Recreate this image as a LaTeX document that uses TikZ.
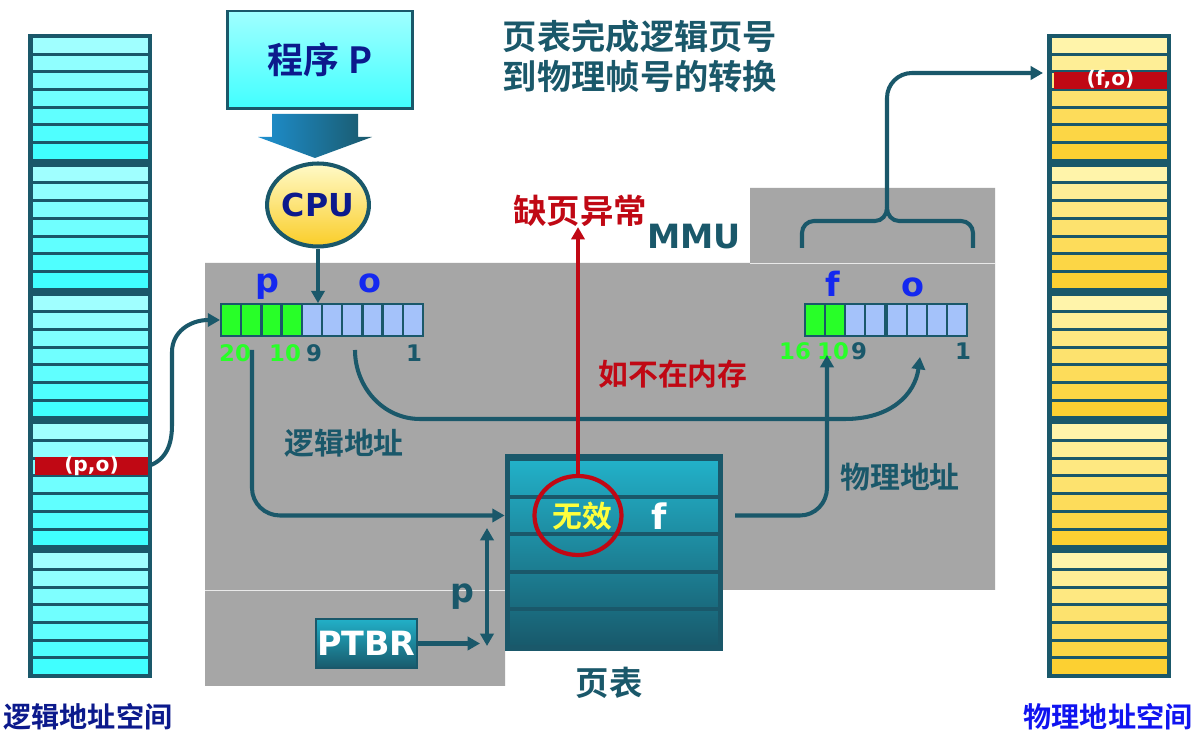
\documentclass[tikz,border=0pt]{standalone}
\usepackage{fontspec}
\setmainfont{DejaVu Sans}
\newfontfamily\cjk{Noto Sans CJK SC}[BoldFont={Noto Sans CJK SC Bold}]
\usetikzlibrary{arrows.meta,shapes.geometric,calc}
\definecolor{teal1}{RGB}{26,88,106}
\definecolor{mmugray}{RGB}{166,166,166}
\definecolor{cyT}{RGB}{160,255,255}
\definecolor{cyB}{RGB}{64,255,255}
\definecolor{yeT}{RGB}{255,244,170}
\definecolor{yeB}{RGB}{252,208,50}
\definecolor{regG}{RGB}{40,255,40}
\definecolor{regB}{RGB}{164,194,250}
\definecolor{lblue}{RGB}{20,40,240}
\definecolor{darkred}{RGB}{192,8,20}
\definecolor{navy}{RGB}{12,26,140}
\definecolor{rblue}{RGB}{16,20,240}
\definecolor{tabT}{RGB}{34,176,200}
\definecolor{tabB}{RGB}{24,90,108}
\definecolor{lyel}{RGB}{255,255,60}
\definecolor{arrL}{RGB}{30,144,208}
\definecolor{cpuT}{RGB}{255,250,200}
\definecolor{cpuB}{RGB}{250,205,40}
\newcommand{\fs}[1]{\fontsize{#1}{#1}\selectfont}
\newcommand{\memcol}[3]{%
  \fill[teal1] (#1,34) rectangle ++(124,644);
  \foreach \g in {0,...,4}{
    \foreach \i in {0,...,6}{
      \pgfmathsetmacro\yy{38+\g*128.8+\i*17.7}
      \pgfmathtruncatemacro\pc{100-\i*100/6}
      \fill[#2!\pc!#3] (#1+5,\yy) rectangle ++(115,14.7);
    }}}
\tikzset{
  conn/.style={draw=teal1,line width=2.3pt},
  arr/.style={-{Triangle[length=7pt,width=7.5pt]}},
  barr/.style={{Triangle[length=7pt,width=7.5pt]}-{Triangle[length=7pt,width=7.5pt]}},
  lbl/.style={font=\cjk\bfseries\fs{17pt}, text=teal1, inner sep=0},
  cell/.style={draw=teal1, line width=1.2pt, minimum width=0.40cm, minimum height=0.63cm, inner sep=0},
  bit/.style={font=\bfseries\fs{13pt}, inner sep=0, anchor=base},
  fld/.style={font=\bfseries\fs{19pt}, text=lblue, inner sep=0, anchor=base},
  redbar/.style={fill=darkred, text=white, font=\bfseries\fs{11.5pt}, minimum width=2.26cm, minimum height=0.34cm, inner sep=0, text height=8pt, text depth=2pt},
}
\begin{document}
\begin{tikzpicture}[x=0.02cm,y=-0.02cm]
\useasboundingbox (0,0) rectangle (1198,742);
\fill[white] (0,0) rectangle (1198,742);
% MMU gray region
\fill[mmugray] (205,263) -- (750,263) -- (750,188) -- (995,188) -- (995,590) -- (505,590) -- (505,686) -- (205,686) -- cycle;
\draw[white!75!mmugray, line width=0.5pt] (750,263) -- (995,263);
\draw[white!75!mmugray, line width=0.5pt] (205,590) -- (505,590);
% memory columns
\memcol{28}{cyT}{cyB}
\memcol{1047}{yeT}{yeB}
\node[redbar] (po) at (91.5,466) {(p,o)};
\node[redbar] (fo) at (1110.5,80.5) {(f,o)};
\node[font=\cjk\bfseries\fs{16pt}, text=navy] (lasp) at (88,717) {逻辑地址空间};
\node[font=\cjk\bfseries\fs{16pt}, text=rblue] (pasp) at (1108,717) {物理地址空间};
% title
\node[align=center, font=\cjk\bfseries\fontsize{19.5pt}{22.7pt}\selectfont, text=teal1] (title) at (640,56) {页表完成逻辑页号\\到物理帧号的转换};
% program box
\node[draw=teal1, line width=1.7pt, top color=cyT, bottom color=cyB, minimum width=3.72cm, minimum height=1.96cm, inner sep=0, font=\cjk\bfseries\fs{20.5pt}, text=navy] (prog) at (320,60) {程序 P};
\shade[left color=arrL, right color=teal1] (272,114) -- (358,114) -- (358,137) -- (372,137) -- (315,158) -- (258,137) -- (272,137) -- cycle;
% CPU
\node[ellipse, draw=teal1, line width=2.3pt, top color=cpuT, bottom color=cpuB, minimum width=1.96cm, minimum height=1.66cm, inner sep=0, font=\bfseries\fs{18pt}, text=navy] (cpu) at (318,205) {CPU};
% left register
\foreach \i in {0,...,9}{
  \ifnum\i<4 \def\cc{regG}\else\def\cc{regB}\fi
  \node[cell, fill=\cc] (L\i) at (231.1+\i*20.2,320) {};
}
% right register
\foreach \i in {0,...,3}{\node[cell, fill=\ifnum\i<2 regG\else regB\fi] (R\i) at (815+\i*20,320) {};}
\foreach \i in {4,...,7}{\node[cell, fill=regB] (R\i) at (897+\i*20-80,320) {};}
\node[fld] (fp) at (267,293) {p};
\node[fld] (fo1) at (370,293) {o};
\node[fld] (ff) at (833,297) {f};
\node[fld] (fo2) at (913,297) {o};
\node[bit, text=regG] (n20) at (235,362) {20};
\node[bit, text=regG] (n10) at (285,362) {10};
\node[bit, text=teal1] (n9) at (314,362) {9};
\node[bit, text=teal1] (n1) at (414,362) {1};
\node[bit, text=regG] (m16) at (795,360) {16};
\node[bit, text=regG] (m10) at (833,360) {10};
\node[bit, text=teal1] (m9) at (859,360) {9};
\node[bit, text=teal1] (m1) at (963,360) {1};
% page table
\node[fill=teal1, minimum width=4.36cm, minimum height=3.94cm, inner sep=0] (tab) at (614,552.5) {};
\foreach \i in {0,...,4}{
  \pgfmathtruncatemacro\ta{100-\i*20}
  \pgfmathtruncatemacro\tb{100-(\i+1)*20}
  \node[top color=tabT!\ta!tabB, bottom color=tabT!\tb!tabB, minimum width=4.16cm, minimum height=0.65cm, inner sep=0] (r\i) at (614,478+\i*37.5) {};
}
\node[ellipse, draw=darkred, line width=2.4pt, minimum width=1.74cm, minimum height=1.58cm, inner sep=0] (inv) at (578,515.5) {};
\node[font=\cjk\bfseries\fs{17pt}, text=lyel, inner sep=0] (invt) at (582,516) {无效};
\node[font=\bfseries\fs{20pt}, text=white, inner sep=0] (ft) at (659,516) {f};
\node[font=\cjk\bfseries\fs{19pt}, text=teal1] (pt) at (609,683) {页表};
% texts
\node[font=\cjk\bfseries\fs{19pt}, text=darkred, inner sep=0] (fault) at (580,211) {缺页异常};
\node[font=\bfseries\fs{19pt}, text=teal1, inner sep=0] (mmu) at (694,237) {MMU};
\node[font=\cjk\bfseries\fs{17pt}, text=darkred, inner sep=0] (notin) at (673,374) {如不在内存};
\node[lbl] (laddr) at (344,443) {逻辑地址};
\node[lbl] (paddr) at (900,477) {物理地址};
\node[font=\bfseries\fs{19pt}, text=teal1, inner sep=0, anchor=base] (pl) at (462,603) {p};
% PTBR
\node[draw=teal1, line width=1pt, top color=tabT, bottom color=tabB, minimum width=2.02cm, minimum height=0.98cm, inner sep=0, font=\bfseries\fs{19pt}, text=white] (ptbr) at (366.5,643.5) {PTBR};
% coordinates
\coordinate (la) at (252,350);
\coordinate (os) at (355,350);
\coordinate (oe) at (920,357);
\coordinate (ps) at (735,515.5);
\coordinate (pe) at (827,355);
\coordinate (pt2) at (480,643.5);
\coordinate (da) at (487,528);
\coordinate (db) at (487,646);
\coordinate (brtip) at (887,208);
\coordinate (fot) at (1043,73);
% connectors
\draw[conn,arr] (cpu.south) -- (cpu.south |- L4.north);
\draw[conn,arr] (po.east) .. controls (166,460) and (172,445) .. (172,425) -- (172,352) .. controls (172,332) and (190,320) .. (L0.west);
\draw[conn,arr] (la) -- (252,488) to[out=-90,in=180] (280,515.5) -- (r1.west -| tab.west);
\draw[conn,arr] (os) to[out=-90,in=180] (420,419) -- (845,419) .. controls (890,419) and (915,395) .. (oe);
\draw[conn,arr] (ps) -- (800,515.5) to[out=0,in=-90] (827,488) -- (pe);
\draw[draw=darkred,line width=2.3pt,arr] (inv.north) -- (inv.north |- fault.south);
\draw[conn,arr] (ptbr.east) -- (pt2);
\draw[conn,barr] (da) -- (db);
\draw[conn] (802,248) -- (802,233) to[out=90,in=180] (814,221) -- (875,221) to[out=0,in=-90] (brtip) to[out=-90,in=180] (899,221) -- (961,221) to[out=0,in=90] (973,233) -- (973,248);
\draw[conn,arr] (brtip) -- (887,98) to[out=90,in=180] (912,73) -- (fot);
\end{tikzpicture}
\end{document}
